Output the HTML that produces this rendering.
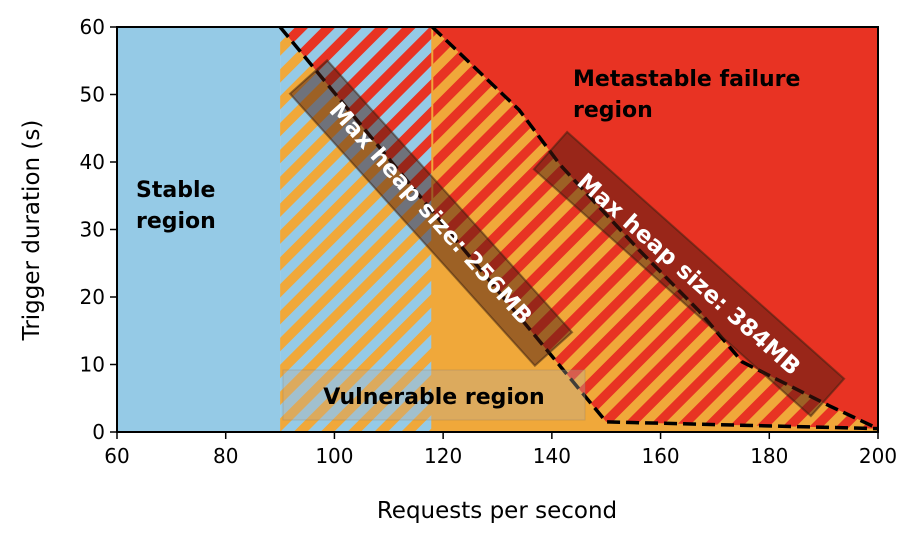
<!DOCTYPE html>
<html><head><meta charset="utf-8"><style>
body{margin:0;background:#fff}
svg text{font-family:"DejaVu Sans","Liberation Sans",sans-serif}
</style></head><body>
<svg id="c" width="912" height="538" xmlns="http://www.w3.org/2000/svg">
<defs>
<pattern id="hatchO" patternUnits="userSpaceOnUse" width="19" height="19" patternTransform="rotate(45)"><rect width="9.5" height="19" fill="#f0a83a"/></pattern>
<pattern id="hatchR" patternUnits="userSpaceOnUse" width="19" height="19" patternTransform="rotate(45)"><rect width="9.5" height="19" fill="#e83323"/></pattern>
<clipPath id="plotclip"><rect x="117" y="27" width="761" height="405"/></clipPath>
</defs>
<g id="plot" clip-path="url(#plotclip)"></g>
<g id="axes"></g>
</svg>
<script>
const xTicks=[60,80,100,120,140,160,180,200];
const yTicks=[0,10,20,30,40,50,60];
const stableMax=90;
const heapLimit=118;
const line256X=[90,150,200];
const line256Y=[60,1.5,0.5];
const line384X=[118,134,141.5,156,167,175,191,200];
const line384Y=[60,47.7,39.6,27,18,10.4,3.9,0.5];
const X=v=>117+(v-60)*761/140;
const Y=v=>432-v*405/60;
const NS="http://www.w3.org/2000/svg";
const plot=document.getElementById('plot'),axes=document.getElementById('axes');
function mk(tag,attrs,parent){const e=document.createElementNS(NS,tag);for(const k in attrs)e.setAttribute(k,attrs[k]);parent.appendChild(e);return e;}
function pts(xs,ys){return xs.map((x,i)=>X(x)+','+Y(ys[i])).join(' ');}
const defs=document.querySelector('defs');
const cA=mk('clipPath',{id:'above256'},defs);
mk('polygon',{points:pts(line256X,line256Y)+' '+X(200)+','+Y(60)},cA);
const cB=mk('clipPath',{id:'below256'},defs);
mk('polygon',{points:pts(line256X,line256Y)+' '+X(200)+','+Y(0)+' '+X(90)+','+Y(0)},cB);

let e;
e=mk('rect',{x:X(60),y:Y(60),width:X(stableMax)-X(60),height:Y(0)-Y(60),fill:'#95cae6'},plot);

e=mk('rect',{x:X(stableMax),y:Y(60),width:X(heapLimit)-X(stableMax),height:Y(0)-Y(60),fill:'#95cae6'},plot);

e=mk('rect',{x:X(stableMax),y:Y(60),width:X(heapLimit)-X(stableMax),height:Y(0)-Y(60),fill:'url(#hatchO)','clip-path':'url(#below256)'},plot);

e=mk('rect',{x:X(stableMax),y:Y(60),width:X(heapLimit)-X(stableMax),height:Y(0)-Y(60),fill:'url(#hatchR)','clip-path':'url(#above256)'},plot);

e=mk('rect',{x:X(heapLimit),y:Y(60),width:X(200)-X(heapLimit),height:Y(0)-Y(60),fill:'#f0a83a'},plot);

e=mk('polygon',{points:pts(line384X,line384Y)+' '+X(200)+','+Y(0)+' '+X(118)+','+Y(0),fill:'url(#hatchR)','clip-path':'url(#above256)'},plot);

e=mk('polygon',{points:pts(line384X,line384Y)+' '+X(200)+','+Y(60),fill:'#e83323'},plot);

e=mk('line',{x1:X(heapLimit),y1:Y(60),x2:X(heapLimit),y2:Y(0),stroke:'#f0a83a','stroke-width':2},plot);

e=mk('polyline',{points:pts(line256X,line256Y),fill:'none',stroke:'#000','stroke-width':3.5,'stroke-dasharray':'13,6'},plot);

e=mk('polyline',{points:pts(line384X,line384Y),fill:'none',stroke:'#000','stroke-width':3.5,'stroke-dasharray':'13,6'},plot);

e=mk('rect',{x:283,y:370,width:302,height:50,fill:'#b8b0a0','fill-opacity':0.35,stroke:'#8a7a60','stroke-opacity':0.3},plot);

e=mk('text',{x:434,y:404,'text-anchor':'middle','font-size':22,'font-weight':'bold',fill:'#000'},plot);e.textContent='Vulnerable region';

function rlabel(cx,cy,ang,len,wid,txt,name){
 const g=mk('g',{transform:`translate(${cx},${cy}) rotate(${ang})`},plot);
 
 mk('rect',{x:-len/2,y:-wid/2,width:len,height:wid,fill:'#4a1a10','fill-opacity':0.5,stroke:'#3a2010','stroke-opacity':0.5,'stroke-width':2},g);
 const t=mk('text',{x:0,y:8,'text-anchor':'middle','font-size':23,'font-weight':'bold',fill:'#fff'},g);t.textContent=txt;
}
rlabel(431,213,48,366,50,'Max heap size: 256MB','label-256mb');
rlabel(689,274,41.7,371,50,'Max heap size: 384MB','label-384mb');
e=mk('text',{x:136,y:197,'font-size':22,'font-weight':'bold'},plot);e.textContent='Stable';

e=mk('text',{x:136,y:228,'font-size':22,'font-weight':'bold'},plot);e.textContent='region';
e=mk('text',{x:573,y:86,'font-size':22,'font-weight':'bold'},plot);e.textContent='Metastable failure';

e=mk('text',{x:573,y:117,'font-size':22,'font-weight':'bold'},plot);e.textContent='region';
e=mk('rect',{x:117,y:27,width:761,height:405,fill:'none',stroke:'#000','stroke-width':2},axes);

xTicks.forEach(v=>{
 mk('line',{x1:X(v),y1:432,x2:X(v),y2:439,stroke:'#000','stroke-width':1.5},axes);
 const t=mk('text',{x:X(v),y:463,'text-anchor':'middle','font-size':20},axes);t.textContent=v;
 
});
yTicks.forEach(v=>{
 mk('line',{x1:110,y1:Y(v),x2:117,y2:Y(v),stroke:'#000','stroke-width':1.5},axes);
 const t=mk('text',{x:105,y:Y(v)+7,'text-anchor':'end','font-size':20},axes);t.textContent=v;
 
});
e=mk('text',{x:497,y:518,'text-anchor':'middle','font-size':23},axes);e.textContent='Requests per second';

e=mk('text',{x:0,y:0,'text-anchor':'middle','font-size':23,transform:'translate(39,230) rotate(-90)'},axes);e.textContent='Trigger duration (s)';

</script>
</body></html>
